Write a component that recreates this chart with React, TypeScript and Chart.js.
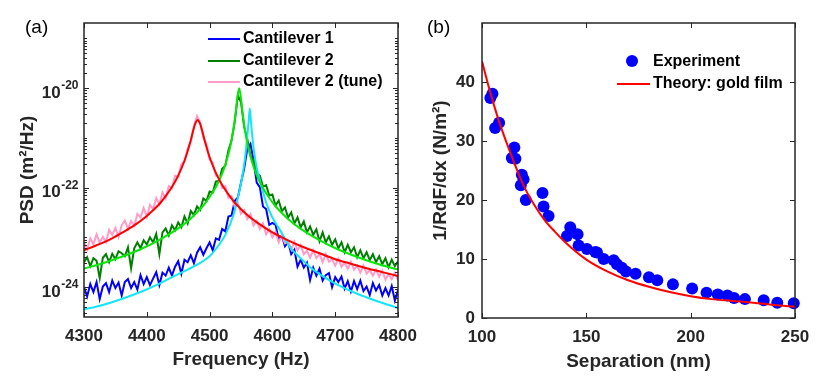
import React, { useEffect, useRef } from 'react';
import { Chart, registerables } from 'chart.js';

Chart.register(...registerables);

// ---------------- Panel (a): PSD spectra (values stored as log10 of PSD, m^2/Hz) ----------------
const freqHz = [
  4300, 4305, 4310, 4315, 4320, 4325, 4330, 4335, 4340, 4345,
  4350, 4355, 4360, 4365, 4370, 4375, 4380, 4385, 4390, 4395,
  4400, 4405, 4410, 4415, 4420, 4425, 4430, 4435, 4440, 4445,
  4450, 4455, 4460, 4465, 4470, 4475, 4480, 4485, 4490, 4495,
  4500, 4505, 4510, 4515, 4520, 4525, 4530, 4535, 4540, 4545,
  4550, 4555, 4560, 4565, 4570, 4575, 4580, 4585, 4590, 4595,
  4600, 4605, 4610, 4615, 4620, 4625, 4630, 4635, 4640, 4645,
  4650, 4655, 4660, 4665, 4670, 4675, 4680, 4685, 4690, 4695,
  4700, 4705, 4710, 4715, 4720, 4725, 4730, 4735, 4740, 4745,
  4750, 4755, 4760, 4765, 4770, 4775, 4780, 4785, 4790, 4795,
  4800,
];

const cantilever1Log10 = [
  -24.00, -24.19, -23.94, -24.10, -23.90, -24.24, -23.99, -23.92, -24.10, -23.87,
  -24.02, -23.91, -24.17, -23.90, -23.84, -24.02, -23.90, -24.05, -23.76, -23.94,
  -23.80, -23.96, -23.83, -23.70, -23.96, -23.71, -23.77, -23.61, -23.77, -23.59,
  -23.48, -23.73, -23.45, -23.50, -23.36, -23.52, -23.31, -23.20, -23.35, -23.22,
  -23.10, -23.26, -23.02, -23.05, -22.83, -22.88, -22.58, -22.56, -22.27, -22.20,
  -21.90, -21.62, -21.22, -21.12, -21.45, -21.90, -21.99, -22.38, -22.43, -22.75,
  -22.71, -22.75, -23.04, -22.96, -23.18, -23.09, -23.34, -23.25, -23.59, -23.45,
  -23.61, -23.51, -23.86, -23.61, -23.77, -23.63, -23.87, -23.76, -23.72, -24.00,
  -23.80, -23.90, -23.79, -24.03, -23.88, -24.09, -23.88, -24.04, -23.87, -24.08,
  -23.99, -24.16, -23.92, -24.07, -23.96, -24.17, -24.02, -24.17, -23.98, -24.27,
  -24.06,
];

const cantilever2Log10 = [
  -23.50, -23.40, -23.58, -23.42, -23.47, -23.82, -23.41, -23.34, -23.50, -23.33,
  -23.44, -23.28, -23.32, -23.38, -23.20, -23.62, -23.22, -23.10, -23.22, -23.06,
  -23.14, -23.00, -23.10, -22.93, -23.34, -22.90, -22.82, -22.96, -22.76, -22.86,
  -22.70, -22.80, -22.58, -22.72, -22.47, -22.55, -22.38, -22.45, -22.22, -22.27,
  -22.08, -22.10, -21.88, -21.86, -21.62, -21.56, -21.25, -21.05, -20.68, -20.15,
  -20.28, -20.78, -21.02, -21.36, -21.46, -21.72, -21.76, -21.98, -21.95, -22.16,
  -22.14, -22.36, -22.26, -22.47, -22.40, -22.60, -22.50, -22.72, -22.60, -22.80,
  -22.68, -22.90, -22.78, -22.95, -22.84, -23.08, -22.90, -23.10, -22.98, -23.15,
  -23.04, -23.22, -23.10, -23.30, -23.15, -23.30, -23.20, -23.40, -23.26, -23.42,
  -23.30, -23.46, -23.34, -23.50, -23.38, -23.54, -23.42, -23.60, -23.45, -23.58,
  -23.48,
];

const cantilever2TuneLog10 = [
  -23.10, -23.24, -23.02, -23.14, -22.94, -23.11, -22.99, -23.10, -22.85, -22.95,
  -22.81, -22.99, -22.76, -22.66, -22.83, -22.67, -22.77, -22.53, -22.60, -22.41,
  -22.59, -22.35, -22.43, -22.21, -22.34, -22.10, -22.22, -21.97, -22.01, -21.76,
  -21.78, -21.53, -21.48, -21.22, -21.08, -20.76, -20.56, -20.70, -20.98, -21.13,
  -21.43, -21.50, -21.76, -21.77, -22.01, -21.97, -22.21, -22.17, -22.39, -22.31,
  -22.53, -22.45, -22.63, -22.53, -22.76, -22.67, -22.83, -22.72, -22.94, -22.84,
  -23.00, -22.89, -23.10, -22.96, -23.12, -23.08, -23.24, -23.09, -23.26, -23.16,
  -23.34, -23.27, -23.41, -23.26, -23.42, -23.33, -23.50, -23.34, -23.49, -23.44,
  -23.57, -23.43, -23.59, -23.51, -23.63, -23.49, -23.65, -23.57, -23.71, -23.57,
  -23.73, -23.66, -23.77, -23.65, -23.79, -23.67, -23.85, -23.74, -23.84, -23.71,
  -23.86,
];

const fit1FreqHz = [4300, 4330, 4360, 4390, 4420, 4440, 4460, 4480, 4500, 4515, 4525, 4538, 4545, 4551, 4556, 4559, 4562, 4564, 4566, 4570, 4575, 4580, 4590, 4600, 4612, 4628, 4645, 4660, 4680, 4700, 4734, 4768, 4800];
const fit1Log10 = [-24.45, -24.36, -24.24, -24.10, -23.93, -23.80, -23.68, -23.55, -23.38, -23.15, -22.95, -22.55, -22.20, -21.85, -21.45, -21.10, -20.70, -20.41, -20.70, -21.20, -21.60, -21.85, -22.30, -22.60, -22.85, -23.20, -23.42, -23.60, -23.78, -23.93, -24.13, -24.29, -24.42];

const fit2FreqHz = [4300, 4330, 4360, 4390, 4420, 4450, 4470, 4490, 4500, 4510, 4520, 4527, 4533, 4538, 4541, 4544, 4547, 4550, 4553, 4556, 4561, 4567, 4574, 4584, 4594, 4604, 4624, 4644, 4674, 4704, 4734, 4764, 4800];
const fit2Log10 = [-23.63, -23.52, -23.39, -23.24, -23.05, -22.82, -22.62, -22.36, -22.19, -21.99, -21.72, -21.46, -21.17, -20.82, -20.55, -20.21, -20.00, -20.21, -20.55, -20.82, -21.17, -21.46, -21.72, -21.99, -22.19, -22.36, -22.62, -22.82, -23.05, -23.24, -23.39, -23.52, -23.65];

const fitTuneFreqHz = [4300, 4320, 4340, 4360, 4380, 4400, 4420, 4430, 4440, 4450, 4460, 4465, 4470, 4475, 4478, 4481, 4484, 4487, 4492, 4497, 4502, 4512, 4522, 4532, 4542, 4560, 4580, 4600, 4625, 4650, 4675, 4700, 4725, 4750, 4775, 4800];
const fitTuneLog10 = [-23.26, -23.16, -23.05, -22.91, -22.76, -22.57, -22.33, -22.17, -21.99, -21.76, -21.46, -21.27, -21.05, -20.80, -20.69, -20.64, -20.69, -20.80, -21.05, -21.27, -21.46, -21.76, -21.99, -22.17, -22.33, -22.55, -22.74, -22.90, -23.06, -23.20, -23.32, -23.44, -23.53, -23.62, -23.70, -23.78];

const freqTicks = [4300, 4400, 4500, 4600, 4700, 4800];
const psdTickExponents = [-24, -22, -20];
const psdMin = 2.5e-25;
const psdMax = 2.04e-19;

// ---------------- Panel (b): force gradient vs separation ----------------
const expSeparationNm = [104, 105, 106.3, 108.2, 114.3, 116, 115.5, 118.6, 119.1, 119.9, 121, 129, 129.5, 131.9, 140.7, 142.3, 145.8, 146.3, 150.3, 154.3, 155.1, 158.3, 163.1, 164.7, 167, 169, 173.6, 180, 184, 191.5, 200.7, 207.6, 213, 217.6, 220.8, 226, 235, 241.5, 249.4];
const expGradient = [37.3, 38, 32.2, 33.1, 27.1, 27.0, 28.9, 22.5, 24.3, 23.5, 20, 21.2, 18.9, 17.3, 13.9, 15.4, 14.2, 12.3, 11.7, 11.2, 11.1, 10.0, 9.8, 9.1, 8.5, 7.9, 7.5, 6.9, 6.4, 5.7, 5.0, 4.3, 4.0, 3.8, 3.4, 3.2, 3.0, 2.6, 2.5];

const theorySeparationNm = [100, 104, 108, 112, 116, 120, 125, 130, 135, 140, 150, 160, 170, 180, 190, 200, 210, 220, 230, 240, 250];
const theoryGradient = [43.5, 38.2, 33.5, 29.5, 25.8, 22.4, 19.2, 16.6, 14.6, 12.8, 9.9, 7.9, 6.4, 5.3, 4.4, 3.7, 3.2, 2.9, 2.6, 2.2, 1.9];

const sepTicks = [100, 150, 200, 250];
const gradTicks = [0, 10, 20, 30, 40];

// ---------------- styling ----------------
const FONT = '"Liberation Sans", Arial, Helvetica, "DejaVu Sans", sans-serif';
const AXIS_COLOR = '#262626';

const logPts = (xs: number[], ls: number[]) => xs.map((x, i) => ({ x, y: Math.pow(10, ls[i]) }));
const linPts = (xs: number[], ys: number[]) => xs.map((x, i) => ({ x, y: ys[i] }));

type FrameCfg = {
  xMajor: number[];
  yMajor: number[];
  yMinor: number[];
  legend: (ctx: CanvasRenderingContext2D) => void;
  yLabels?: (ctx: CanvasRenderingContext2D, chart: any) => void;
  panel: { text: string; x: number; y: number };
};

function makeFramePlugin(cfg: FrameCfg) {
  return {
    id: 'matlabFrame',
    afterDraw(chart: any) {
      const { ctx, chartArea: a, scales } = chart;
      ctx.save();
      ctx.strokeStyle = AXIS_COLOR;
      ctx.lineWidth = 1;
      ctx.beginPath();
      for (const v of cfg.xMajor) {
        const px = Math.round(scales.x.getPixelForValue(v)) + 0.5;
        ctx.moveTo(px, a.bottom);
        ctx.lineTo(px, a.bottom - 5);
        ctx.moveTo(px, a.top);
        ctx.lineTo(px, a.top + 5);
      }
      for (const v of cfg.yMajor) {
        const py = Math.round(scales.y.getPixelForValue(v)) + 0.5;
        ctx.moveTo(a.left, py);
        ctx.lineTo(a.left + 5, py);
        ctx.moveTo(a.right, py);
        ctx.lineTo(a.right - 5, py);
      }
      for (const v of cfg.yMinor) {
        const py = Math.round(scales.y.getPixelForValue(v)) + 0.5;
        if (py < a.top + 1 || py > a.bottom - 1) continue;
        ctx.moveTo(a.left, py);
        ctx.lineTo(a.left + 3, py);
        ctx.moveTo(a.right, py);
        ctx.lineTo(a.right - 3, py);
      }
      ctx.stroke();
      ctx.lineWidth = 1.5;
      ctx.strokeRect(a.left, a.top, a.right - a.left, a.bottom - a.top);
      if (cfg.yLabels) cfg.yLabels(ctx, chart);
      cfg.legend(ctx);
      ctx.fillStyle = '#000';
      ctx.font = '19px ' + FONT;
      ctx.textAlign = 'left';
      ctx.textBaseline = 'middle';
      ctx.fillText(cfg.panel.text, cfg.panel.x, cfg.panel.y);
      ctx.restore();
    },
  };
}

const tickFont = { family: FONT, size: 17, weight: 'bold' as const };
const titleFont = { family: FONT, size: 19, weight: 'bold' as const };

function lineLegend(ctx: CanvasRenderingContext2D, items: { color: string; text: string; y: number }[], x0: number, x1: number, tx: number) {
  ctx.font = 'bold 16px ' + FONT;
  ctx.textAlign = 'left';
  ctx.textBaseline = 'middle';
  for (const it of items) {
    ctx.strokeStyle = it.color;
    ctx.lineWidth = 2;
    ctx.beginPath();
    ctx.moveTo(x0, it.y);
    ctx.lineTo(x1, it.y);
    ctx.stroke();
    ctx.fillStyle = '#000';
    ctx.fillText(it.text, tx, it.y);
  }
}

// power-of-ten tick labels: "10" with a raised exponent, right-aligned against the y axis
function drawPowerLabels(ctx: CanvasRenderingContext2D, chart: any) {
  const { chartArea: a, scales } = chart;
  const right = a.left - 6;
  ctx.fillStyle = AXIS_COLOR;
  ctx.textAlign = 'left';
  ctx.textBaseline = 'alphabetic';
  for (const e of psdTickExponents) {
    const py = scales.y.getPixelForValue(Math.pow(10, e));
    const expText = String(e);
    ctx.font = 'bold 12px ' + FONT;
    const w2 = ctx.measureText(expText).width;
    ctx.font = 'bold 17px ' + FONT;
    const w1 = ctx.measureText('10').width;
    const x0 = right - w2 - w1;
    ctx.fillText('10', x0, py + 9.5);
    ctx.font = 'bold 12px ' + FONT;
    ctx.fillText(expText, x0 + w1 + 0.5, py + 1);
  }
}

export default function App() {
  const leftRef = useRef<HTMLCanvasElement>(null);
  const rightRef = useRef<HTMLCanvasElement>(null);

  useEffect(() => {
    // minor log ticks for the PSD axis
    const minors: number[] = [];
    for (let e = -26; e <= -18; e++) {
      for (let k = 1; k <= 9; k++) {
        const v = k * Math.pow(10, e);
        if (v >= psdMin && v <= psdMax && !(k === 1 && psdTickExponents.includes(e))) minors.push(v);
      }
    }

    const left = new Chart(leftRef.current!, {
      type: 'line',
      data: {
        datasets: [
          { label: 'Cantilever 1', data: logPts(freqHz, cantilever1Log10), borderColor: '#0000FF', borderWidth: 2, pointRadius: 0, tension: 0, order: 6 },
          { label: 'Cantilever 2', data: logPts(freqHz, cantilever2Log10), borderColor: '#008000', borderWidth: 2, pointRadius: 0, tension: 0, order: 5 },
          { label: 'Cantilever 2 (tune)', data: logPts(freqHz, cantilever2TuneLog10), borderColor: '#FF9CC8', borderWidth: 2, pointRadius: 0, tension: 0, order: 4 },
          { label: 'Fit 1', data: logPts(fit1FreqHz, fit1Log10), borderColor: '#14E6F8', borderWidth: 2, pointRadius: 0, cubicInterpolationMode: 'monotone', order: 3 },
          { label: 'Fit 2', data: logPts(fit2FreqHz, fit2Log10), borderColor: '#0AE60A', borderWidth: 2, pointRadius: 0, cubicInterpolationMode: 'monotone', order: 2 },
          { label: 'Fit 2 (tune)', data: logPts(fitTuneFreqHz, fitTuneLog10), borderColor: '#FF0000', borderWidth: 2, pointRadius: 0, cubicInterpolationMode: 'monotone', order: 1 },
        ],
      },
      options: {
        responsive: false,
        animation: false,
        events: [],
        layout: { padding: { left: 0, top: 23, right: 32, bottom: 0 } },
        plugins: { legend: { display: false }, tooltip: { enabled: false } },
        scales: {
          x: {
            type: 'linear',
            position: 'bottom',
            min: 4300,
            max: 4800,
            bounds: 'data',
            grid: { display: false, drawTicks: false },
            border: { display: false },
            afterBuildTicks: (s: any) => { s.ticks = freqTicks.map((v) => ({ value: v })); },
            afterFit: (s: any) => { s.height = 65; s.paddingLeft = 0; s.paddingRight = 0; },
            ticks: { font: tickFont, color: AXIS_COLOR, padding: 9, maxRotation: 0, autoSkip: false, callback: (v: any) => String(v) },
            title: { display: true, text: 'Frequency (Hz)', font: titleFont, color: AXIS_COLOR, padding: { top: 0, bottom: 11 } },
          },
          y: {
            type: 'logarithmic',
            min: psdMin,
            max: psdMax,
            bounds: 'data',
            grid: { display: false, drawTicks: false },
            border: { display: false },
            afterBuildTicks: (s: any) => { s.ticks = psdTickExponents.map((e) => ({ value: Math.pow(10, e) })); },
            afterFit: (s: any) => { s.width = 84; s.paddingTop = 0; s.paddingBottom = 0; },
            ticks: { display: false },
            title: { display: true, text: 'PSD (m\u00B2/Hz)', font: titleFont, color: AXIS_COLOR, padding: { top: 16, bottom: 0 } },
          },
        },
      } as any,
      plugins: [
        makeFramePlugin({
          xMajor: freqTicks,
          yMajor: psdTickExponents.map((e) => Math.pow(10, e)),
          yMinor: minors,
          yLabels: drawPowerLabels,
          panel: { text: '(a)', x: 25, y: 28 },
          legend: (ctx) =>
            lineLegend(
              ctx,
              [
                { color: '#0000FF', text: 'Cantilever 1', y: 39 },
                { color: '#008000', text: 'Cantilever 2', y: 61 },
                { color: '#FF9CC8', text: 'Cantilever 2 (tune)', y: 82 },
              ],
              208,
              240,
              243
            ),
        }),
      ],
    });

    const right = new Chart(rightRef.current!, {
      type: 'scatter',
      data: {
        datasets: [
          { label: 'Experiment', data: linPts(expSeparationNm, expGradient), backgroundColor: '#0000FF', borderWidth: 0, pointRadius: 6, pointStyle: 'circle', clip: false as any, order: 2 },
          { type: 'line', label: 'Theory: gold film', data: linPts(theorySeparationNm, theoryGradient), borderColor: '#FF0000', borderWidth: 2, pointRadius: 0, cubicInterpolationMode: 'monotone', fill: false, order: 1 } as any,
        ],
      },
      options: {
        responsive: false,
        animation: false,
        events: [],
        layout: { padding: { left: 0, top: 23, right: 36, bottom: 0 } },
        plugins: { legend: { display: false }, tooltip: { enabled: false } },
        scales: {
          x: {
            type: 'linear',
            position: 'bottom',
            min: 100,
            max: 250,
            bounds: 'data',
            grid: { display: false, drawTicks: false },
            border: { display: false },
            afterBuildTicks: (s: any) => { s.ticks = sepTicks.map((v) => ({ value: v })); },
            afterFit: (s: any) => { s.height = 64; s.paddingLeft = 0; s.paddingRight = 0; },
            ticks: { font: tickFont, color: AXIS_COLOR, padding: 9, maxRotation: 0, autoSkip: false, callback: (v: any) => String(v) },
            title: { display: true, text: 'Separation (nm)', font: titleFont, color: AXIS_COLOR, padding: { top: 0, bottom: 9 } },
          },
          y: {
            type: 'linear',
            min: 0,
            max: 50,
            bounds: 'data',
            grid: { display: false, drawTicks: false },
            border: { display: false },
            afterBuildTicks: (s: any) => { s.ticks = gradTicks.map((v) => ({ value: v })); },
            afterFit: (s: any) => { s.width = 67; s.paddingTop = 0; s.paddingBottom = 0; },
            ticks: { font: tickFont, color: AXIS_COLOR, padding: 7, autoSkip: false, callback: (v: any) => String(v) },
            title: { display: true, text: '1/RdF/dx (N/m\u00B2)', font: titleFont, color: AXIS_COLOR, padding: { top: 14, bottom: 0 } },
          },
        },
      } as any,
      plugins: [
        makeFramePlugin({
          xMajor: sepTicks,
          yMajor: gradTicks,
          yMinor: [],
          panel: { text: '(b)', x: 12, y: 28 },
          legend: (ctx) => {
            ctx.fillStyle = '#0000FF';
            ctx.beginPath();
            ctx.arc(217, 61, 6, 0, Math.PI * 2);
            ctx.fill();
            ctx.font = 'bold 16px ' + FONT;
            ctx.textAlign = 'left';
            ctx.textBaseline = 'middle';
            ctx.fillStyle = '#000';
            ctx.fillText('Experiment', 238, 62);
            lineLegend(ctx, [{ color: '#FF0000', text: 'Theory: gold film', y: 84 }], 202, 235, 238);
          },
        }),
      ],
    });

    return () => {
      left.destroy();
      right.destroy();
    };
  }, []);

  return (
    <div style={{ position: 'fixed', left: 0, top: 0, width: 831, height: 382, background: '#fff', overflow: 'hidden' }}>
      <canvas ref={leftRef} width={430} height={382} style={{ position: 'absolute', left: 0, top: 0, width: 430, height: 382 }} />
      <canvas ref={rightRef} width={416} height={382} style={{ position: 'absolute', left: 415, top: 0, width: 416, height: 382 }} />
    </div>
  );
}
